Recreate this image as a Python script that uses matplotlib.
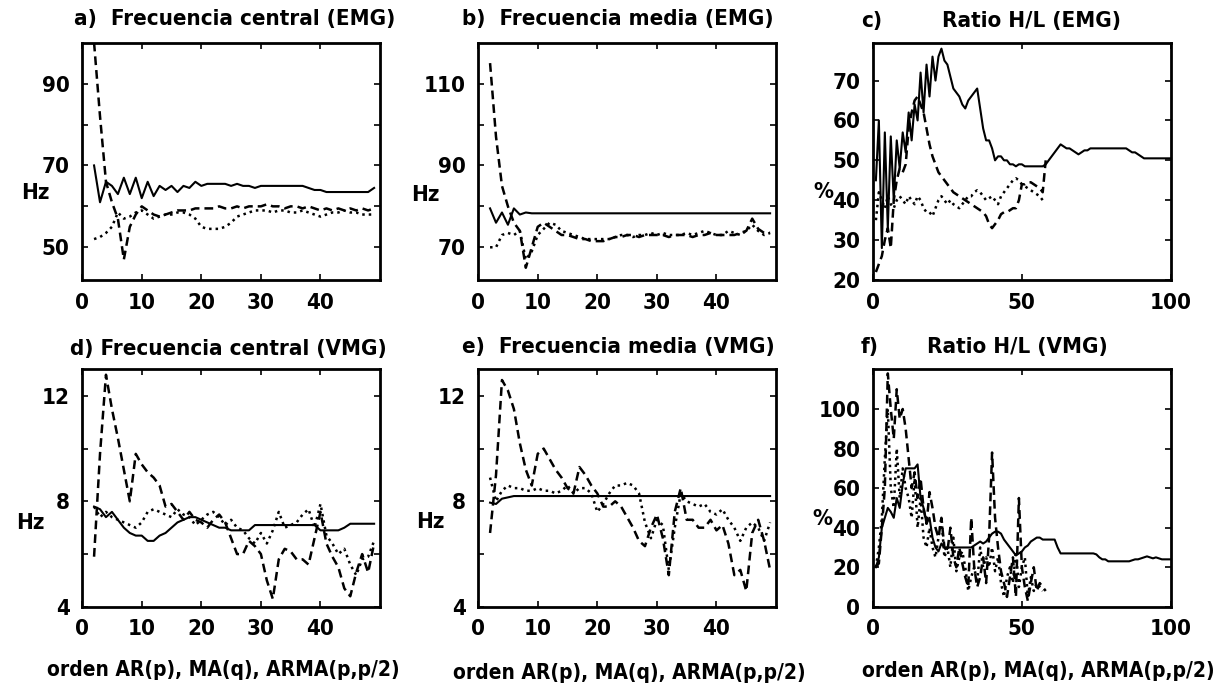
import matplotlib
matplotlib.use('Agg')
import matplotlib.pyplot as plt

plt.rcParams['font.family'] = ['DejaVu Sans']
plt.rcParams['font.stretch'] = 'condensed'
plt.rcParams['font.weight'] = 'bold'

# orden del modelo
orden_ab = list(range(2, 50))
orden_c_sol = list(range(1, 101))
orden_c_dash = list(range(1, 59))
orden_c_dot = list(range(1, 58))

# a) Frecuencia central (EMG)
a_sol = [70, 61, 66, 65, 63, 67, 63, 67, 62, 66, 62.5, 65, 64, 65, 63.5, 65, 64.5, 66,
         65, 65.5, 65.5, 65.5, 65.5, 65, 65.5, 65, 65, 64.5, 65, 65, 65, 65, 65, 65, 65, 65,
         64.5, 64, 64, 63.5, 63.5, 63.5, 63.5, 63.5, 63.5, 63.5, 63.5, 64.5]
a_dash = [100, 82, 66, 61, 57, 47, 55, 58, 60, 59, 58, 57.5, 58, 58.5, 59, 59, 59, 59.5,
          59.5, 59.5, 59.5, 60, 59.5, 59.5, 60, 59.5, 60, 60, 60, 60.5, 60, 60, 59.5, 60,
          60, 59.5, 60, 59.5, 59, 59.5, 59, 59.5, 59, 59.5, 59, 59.5, 59, 59.5]
a_dot = [52, 52.5, 53.5, 55, 58.5, 57, 57.5, 58.5, 59, 58, 57, 57.5, 58, 58, 58.5, 58.5,
         58, 57, 55, 54.5, 54.5, 54.5, 55, 56, 57.5, 58, 58.5, 59, 59, 59, 58.5, 59, 59,
         58.5, 58.5, 59, 58.5, 58, 57.5, 58, 58.5, 58.5, 59, 58.5, 58.5, 58, 58, 58]

# b) Frecuencia media (EMG)
b_sol = [79.5, 76, 78.5, 75.5, 79.5, 78, 78.5] + [78.3] * 41
b_dash = [115, 97, 85, 80, 76, 74, 65, 70, 75, 76, 75, 74, 73, 73, 72.5, 72, 72, 71.5,
          71.5, 71.5, 72, 72.5, 72.5, 73, 73, 72.5, 73, 73, 73, 73, 72.5, 73, 73, 73, 72.5,
          73, 73, 73.5, 73, 73, 73, 73, 73.5, 74, 77, 74.5, 73.5, 73.5]
b_dot = [70, 70, 73, 73.5, 73, 74, 67, 69, 73, 74.5, 76, 75.5, 74, 73.5, 73, 72.5, 72,
         72, 72, 72, 72, 72.5, 73, 73, 72.5, 73, 73, 73.5, 73, 73.5, 73, 73, 73, 73.5, 73,
         73.5, 74, 73.5, 73, 73, 74, 73.5, 73, 74, 75.5, 74, 73, 73.5]

# c) Ratio H/L (EMG)
c_sol = [45, 60, 28, 57, 33, 56, 40, 55, 48, 57,
         52, 62, 55, 64, 60, 72, 62, 74, 66, 76,
         70, 76, 78, 75, 74, 71, 68, 67, 66, 64,
         63, 65, 66, 67, 68, 63, 58, 55, 55, 53,
         50, 51, 51, 50, 50, 49, 49, 48.5, 49, 49,
         48.5, 48.5, 48.5, 48.5, 48.5, 48.5, 48.5, 49, 50, 51,
         52, 53, 54, 53.5, 53, 53, 52.5, 52, 51.5, 52,
         52.5, 52.5, 53, 53, 53, 53, 53, 53, 53, 53,
         53, 53, 53, 53, 53, 52.5, 52, 52, 51.5, 51,
         50.5, 50.5, 50.5, 50.5, 50.5, 50.5, 50.5, 50.5, 50.5, 50.5]
c_dash = [22, 24, 26, 30, 33, 28, 40, 45, 48, 47,
          49, 58, 62, 65, 66, 64, 62, 58, 54, 51,
          49, 47, 46, 45, 44, 43, 42, 41.5, 41, 40.5,
          40, 39.5, 39, 38.5, 38, 37.5, 37, 36, 34, 33,
          34, 35, 36.5, 37, 37, 37.5, 38, 38, 40, 44,
          44, 44.5, 44.5, 44, 43.5, 43, 42, 50]
c_dot = [35, 42, 40, 38, 41, 39, 38, 40, 41, 40,
         39, 41, 40, 39, 41, 40, 38, 37, 37, 36,
         38, 40, 41, 40, 39, 40, 39, 38.5, 38, 39,
         40, 41, 41, 42, 42.5, 42, 41, 40, 40.5, 41,
         40, 39, 41, 42, 43, 44, 45, 45.5, 45, 44,
         43.5, 43, 42.5, 42, 41.5, 41, 40]

# d) Frecuencia central (VMG)
d_sol = [7.8, 7.7, 7.4, 7.6, 7.3, 7.0, 6.8, 6.7, 6.7, 6.5, 6.5, 6.7, 6.8, 7.0, 7.2, 7.3,
         7.4, 7.4, 7.3, 7.2, 7.1, 7.0, 7.0, 6.9, 6.9, 6.9, 6.9, 7.1, 7.1, 7.1, 7.1, 7.1,
         7.1, 7.1, 7.1, 7.1, 7.1, 7.1, 6.9, 6.9, 6.9, 6.9, 7.0, 7.15, 7.15, 7.15, 7.15, 7.15]
d_dash = [5.9, 9.8, 12.8, 11.5, 10.4, 9.2, 8.0, 9.8, 9.4, 9.1, 8.9, 8.6, 7.8, 7.9, 7.6,
          7.3, 7.6, 7.3, 7.2, 7.0, 7.3, 7.5, 7.2, 6.6, 6.0, 6.0, 6.5, 6.3, 6.0, 5.0, 4.3,
          5.8, 6.2, 6.1, 5.8, 5.8, 5.6, 6.6, 7.6, 6.4, 5.9, 5.5, 4.7, 4.4, 5.3, 6.0, 5.3, 6.4]
d_dot = [7.8, 7.4, 7.6, 7.4, 7.3, 7.2, 7.1, 7.0, 7.2, 7.6, 7.7, 7.6, 7.5, 7.4, 7.7, 7.5,
         7.4, 7.1, 7.3, 7.5, 7.6, 7.4, 7.1, 7.3, 7.0, 6.9, 6.6, 6.4, 6.8, 6.4, 6.9, 7.6,
         7.0, 7.1, 7.2, 7.5, 7.7, 7.0, 7.9, 6.7, 6.4, 6.0, 6.2, 5.6, 5.2, 5.8, 5.9, 6.5]

# e) Frecuencia media (VMG)
e_sol = [7.95, 7.9, 8.1, 8.15] + [8.2] * 44
e_dash = [6.8, 9.0, 12.6, 12.2, 11.5, 10.2, 9.2, 8.6, 9.8, 10.0, 9.6, 9.2, 8.9, 8.5, 8.3,
          9.3, 9.0, 8.6, 8.3, 7.8, 7.8, 8.0, 7.8, 7.4, 7.0, 6.5, 6.3, 7.0, 7.5, 6.6, 5.2,
          7.6, 8.5, 7.3, 7.3, 7.0, 7.0, 7.3, 6.9, 7.1, 6.4, 5.2, 5.4, 4.6, 6.8, 7.3, 6.5, 5.4]
e_dot = [8.9, 8.0, 8.4, 8.6, 8.5, 8.5, 8.4, 8.4, 8.5, 8.4, 8.4, 8.3, 8.4, 8.6, 8.3, 8.5,
         8.5, 8.3, 7.6, 7.9, 8.3, 8.6, 8.6, 8.7, 8.6, 8.3, 7.2, 6.6, 7.3, 7.1, 5.4, 7.0,
         8.3, 8.0, 7.9, 7.8, 7.9, 7.6, 7.5, 7.7, 7.3, 7.0, 6.5, 7.0, 7.2, 7.0, 6.5, 7.2]

# f) Ratio H/L (VMG)
f_sol = [20, 25, 40, 45, 50, 48, 45, 55, 50, 62,
         70, 70, 70, 70, 72, 55, 50, 42, 45, 35,
         30, 28, 32, 30, 30, 30, 30, 30, 30, 30,
         30, 30, 30, 31, 32, 33, 32, 33, 35, 37,
         38, 38, 37, 34, 32, 30, 28, 26, 27, 28,
         30, 31, 33, 34, 35, 35, 34, 34, 34, 34,
         34, 30, 27, 27, 27, 27, 27, 27, 27, 27,
         27, 27, 27, 27, 26.5, 25, 24, 24, 23, 23,
         23, 23, 23, 23, 23, 23, 23.5, 24, 24, 24.5,
         25, 25.5, 25, 24.5, 25, 24.5, 24, 24, 24, 24]
f_dash = [20, 22, 40, 60, 118, 100, 85, 110, 95, 100,
          90, 75, 60, 68, 55, 65, 50, 42, 58, 50,
          40, 35, 45, 30, 28, 40, 25, 20, 30, 22,
          15, 10, 45, 20, 10, 15, 25, 12, 35, 78,
          45, 30, 18, 12, 5, 15, 25, 5, 55, 20,
          10, 3, 12, 20, 8, 12, 10, 8]
f_dot = [20, 30, 45, 75, 100, 60, 50, 80, 55, 70,
         60, 55, 45, 65, 40, 55, 35, 30, 40, 30,
         25, 35, 45, 25, 30, 20, 35, 18, 25, 28,
         20, 8, 15, 20, 12, 30, 20, 25, 20, 30,
         18, 25, 12, 5, 15, 20, 12, 28, 10, 20,
         25, 5, 15, 8, 12, 10, 8]

fig = plt.figure(figsize=(12.26, 6.88), dpi=100)

cols = [0.067, 0.390, 0.712]
rows = [0.593, 0.118]
w, h = 0.243, 0.345

DASH = (0, (3.5, 2))
DOT = (0, (1, 1.6))
FS = 16


def estilo(ax, xlim, ylim, xticks, xlabels, yticks, ylabels):
    ax.set_xlim(*xlim)
    ax.set_ylim(*ylim)
    ax.set_xticks(xticks)
    ax.set_xticklabels(xlabels)
    ax.set_yticks(yticks)
    ax.set_yticklabels(ylabels)
    ax.tick_params(direction='in', length=4, width=1.2, top=True, right=True,
                   labelsize=FS, pad=9)
    for sp in ax.spines.values():
        sp.set_linewidth(2)


paneles = [
    (orden_ab, a_sol, orden_ab, a_dash, orden_ab, a_dot),
    (orden_ab, b_sol, orden_ab, b_dash, orden_ab, b_dot),
    (orden_c_sol, c_sol, orden_c_dash, c_dash, orden_c_dot, c_dot),
    (orden_ab, d_sol, orden_ab, d_dash, orden_ab, d_dot),
    (orden_ab, e_sol, orden_ab, e_dash, orden_ab, e_dot),
    (orden_c_sol, f_sol, orden_c_dash, f_dash, orden_c_dot, f_dot),
]

axes = []
for i, (xs, ys, xd, yd, xp, yp) in enumerate(paneles):
    ax = fig.add_axes([cols[i % 3], rows[i // 3], w, h])
    ax.plot(xs, ys, color='black', lw=1.5, ls='-')
    ax.plot(xd, yd, color='black', lw=1.8, ls=DASH)
    ax.plot(xp, yp, color='black', lw=1.8, ls=DOT)
    axes.append(ax)

estilo(axes[0], (0, 50), (42, 100), [0, 10, 20, 30, 40], ['0', '10', '20', '30', '40'],
       [50, 60, 70, 80, 90], ['50', '', '70', '', '90'])
estilo(axes[1], (0, 50), (62, 120), [0, 10, 20, 30, 40], ['0', '10', '20', '30', '40'],
       [70, 80, 90, 100, 110], ['70', '', '90', '', '110'])
estilo(axes[2], (0, 100), (20, 79.5), [0, 50, 100], ['0', '50', '100'],
       [20, 30, 40, 50, 60, 70], ['20', '30', '40', '50', '60', '70'])
estilo(axes[3], (0, 50), (4, 13), [0, 10, 20, 30, 40], ['0', '10', '20', '30', '40'],
       [4, 6, 8, 10, 12], ['4', '', '8', '', '12'])
estilo(axes[4], (0, 50), (4, 13), [0, 10, 20, 30, 40], ['0', '10', '20', '30', '40'],
       [4, 6, 8, 10, 12], ['4', '', '8', '', '12'])
estilo(axes[5], (0, 100), (0, 120), [0, 50, 100], ['0', '50', '100'],
       [0, 20, 40, 60, 80, 100], ['0', '20', '40', '60', '80', '100'])

tit_kw = dict(fontsize=FS, ha='center', va='center')
axes[0].text(0.513, 1.10, 'a)  Frecuencia central (EMG)', transform=axes[0].transAxes, **tit_kw)
axes[1].text(0.468, 1.10, 'b)  Frecuencia media (EMG)', transform=axes[1].transAxes, **tit_kw)
axes[2].text(-0.003, 1.09, 'c)', transform=axes[2].transAxes, **tit_kw)
axes[2].text(0.532, 1.09, 'Ratio H/L (EMG)', transform=axes[2].transAxes, **tit_kw)
axes[3].text(0.49, 1.085, 'd) Frecuencia central (VMG)', transform=axes[3].transAxes, **tit_kw)
axes[4].text(0.47, 1.094, 'e)  Frecuencia media (VMG)', transform=axes[4].transAxes, **tit_kw)
axes[5].text(-0.01, 1.094, 'f)', transform=axes[5].transAxes, **tit_kw)
axes[5].text(0.486, 1.094, 'Ratio H/L (VMG)', transform=axes[5].transAxes, **tit_kw)

ylab = [('Hz', -0.158, 0.366), ('Hz', -0.178, 0.357), ('%', -0.167, 0.37),
        ('Hz', -0.174, 0.353), ('Hz', -0.16, 0.357), ('%', -0.17, 0.37)]
for ax, (t, x, y) in zip(axes, ylab):
    ax.text(x, y, t, transform=ax.transAxes, fontsize=FS, ha='center', va='center')

xlab = 'orden AR(p), MA(q), ARMA(p,p/2)'
for ax, x, y in [(axes[3], 0.473, -0.268), (axes[4], 0.508, -0.28), (axes[5], 0.555, -0.27)]:
    ax.text(x, y, xlab, transform=ax.transAxes, fontsize=15, ha='center', va='center')

fig.savefig('out.png', dpi=100)
